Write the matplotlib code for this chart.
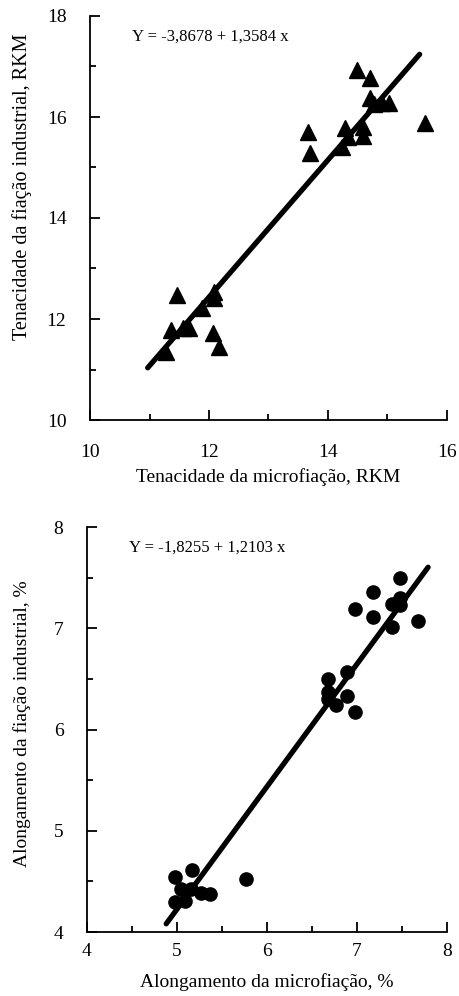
import matplotlib.pyplot as plt
from matplotlib.ticker import MultipleLocator

# Tenacidade (RKM)
ten_micro = [14.48, 14.71, 15.63, 14.71, 14.77, 14.90, 15.03, 13.67, 13.69, 14.29, 14.34,
             14.59, 14.59, 14.24, 11.47, 12.08, 12.08, 11.89, 11.36, 11.66, 11.57, 12.06,
             12.16, 11.27]
ten_ind = [16.93, 16.77, 15.88, 16.38, 16.25, 16.27, 16.27, 15.70, 15.29, 15.78, 15.60,
           15.80, 15.62, 15.41, 12.48, 12.53, 12.42, 12.22, 11.78, 11.82, 11.82, 11.72,
           11.45, 11.35]
ten_coef = (-3.8678, 1.3584)
ten_fit_x = [10.97, 15.54]

# Alongamento (%)
alo_micro = [7.48, 7.18, 6.98, 7.18, 7.39, 7.48, 7.48, 7.39, 7.68, 6.89, 6.68, 6.68, 6.68,
             6.89, 6.77, 6.98, 4.98, 5.17, 5.77, 5.05, 5.16, 5.27, 5.37, 4.98, 5.09]
alo_ind = [7.50, 7.36, 7.19, 7.11, 7.24, 7.30, 7.23, 7.01, 7.07, 6.57, 6.50, 6.37, 6.30,
           6.33, 6.24, 6.17, 4.54, 4.61, 4.52, 4.42, 4.42, 4.39, 4.38, 4.30, 4.31]
alo_coef = (-1.8255, 1.2103)
alo_fit_x = [4.88, 7.79]

plt.rcParams['font.family'] = 'Liberation Serif'
plt.rcParams['font.size'] = 14

fig = plt.figure(figsize=(4.6, 9.96), dpi=100)
ax1 = fig.add_axes([90 / 460, 1 - 420 / 996, 357 / 460, 404 / 996])
ax2 = fig.add_axes([87 / 460, 1 - 932 / 996, 360 / 460, 405 / 996])


def style(ax, xlim, ylim, xmaj, xmin, ymaj, ymin, xpad):
    ax.set_xlim(*xlim)
    ax.set_ylim(*ylim)
    ax.xaxis.set_major_locator(MultipleLocator(xmaj))
    ax.xaxis.set_minor_locator(MultipleLocator(xmin))
    ax.yaxis.set_major_locator(MultipleLocator(ymaj))
    ax.yaxis.set_minor_locator(MultipleLocator(ymin))
    for s in ['top', 'right']:
        ax.spines[s].set_visible(False)
    for s in ['left', 'bottom']:
        ax.spines[s].set_linewidth(1.3)
    ax.tick_params(which='major', direction='in', length=7, width=1.3)
    ax.tick_params(which='minor', direction='in', length=4.5, width=1.3)
    ax.tick_params(axis='y', which='major', pad=17, labelsize=14)
    ax.tick_params(axis='x', which='major', pad=xpad, labelsize=14)


style(ax1, (10, 16), (10, 18), 2, 1, 2, 1, 17)
ax1.plot(ten_fit_x, [ten_coef[0] + ten_coef[1] * x for x in ten_fit_x],
         color='black', lw=3.8, solid_capstyle='round')
ax1.plot(ten_micro, ten_ind, '^', color='black', ms=11, clip_on=False)
ax1.text(0.118, 0.949, 'Y = -3,8678 + 1,3584 x', transform=ax1.transAxes,
         fontsize=12, va='center', ha='left')
ax1.set_xlabel('Tenacidade da microfiação, RKM', fontsize=14)
ax1.set_ylabel('Tenacidade da fiação industrial, RKM', fontsize=14.5)
ax1.xaxis.set_label_coords(0.5, (420 - 477) / 404)
ax1.yaxis.set_label_coords((22 - 90) / 357, (420 - 187) / 404)

style(ax2, (4, 8), (4, 8), 1, 0.5, 1, 0.5, 8)
ax2.plot(alo_fit_x, [alo_coef[0] + alo_coef[1] * x for x in alo_fit_x],
         color='black', lw=3.8, solid_capstyle='round')
ax2.plot(alo_micro, alo_ind, 'o', color='black', ms=9.5, clip_on=False)
ax2.text(0.117, 0.95, 'Y = -1,8255 + 1,2103 x', transform=ax2.transAxes,
         fontsize=12, va='center', ha='left')
ax2.set_xlabel('Alongamento da microfiação, %', fontsize=14)
ax2.set_ylabel('Alongamento da fiação industrial, %', fontsize=14)
ax2.xaxis.set_label_coords(0.5, (932 - 982) / 405)
ax2.yaxis.set_label_coords((22 - 87) / 360, (932 - 724) / 405)
ax1.xaxis.label.set_va('center')
ax2.xaxis.label.set_va('center')
ax1.yaxis.label.set_va('center')
ax2.yaxis.label.set_va('center')

fig.savefig('out.png', dpi=100)
